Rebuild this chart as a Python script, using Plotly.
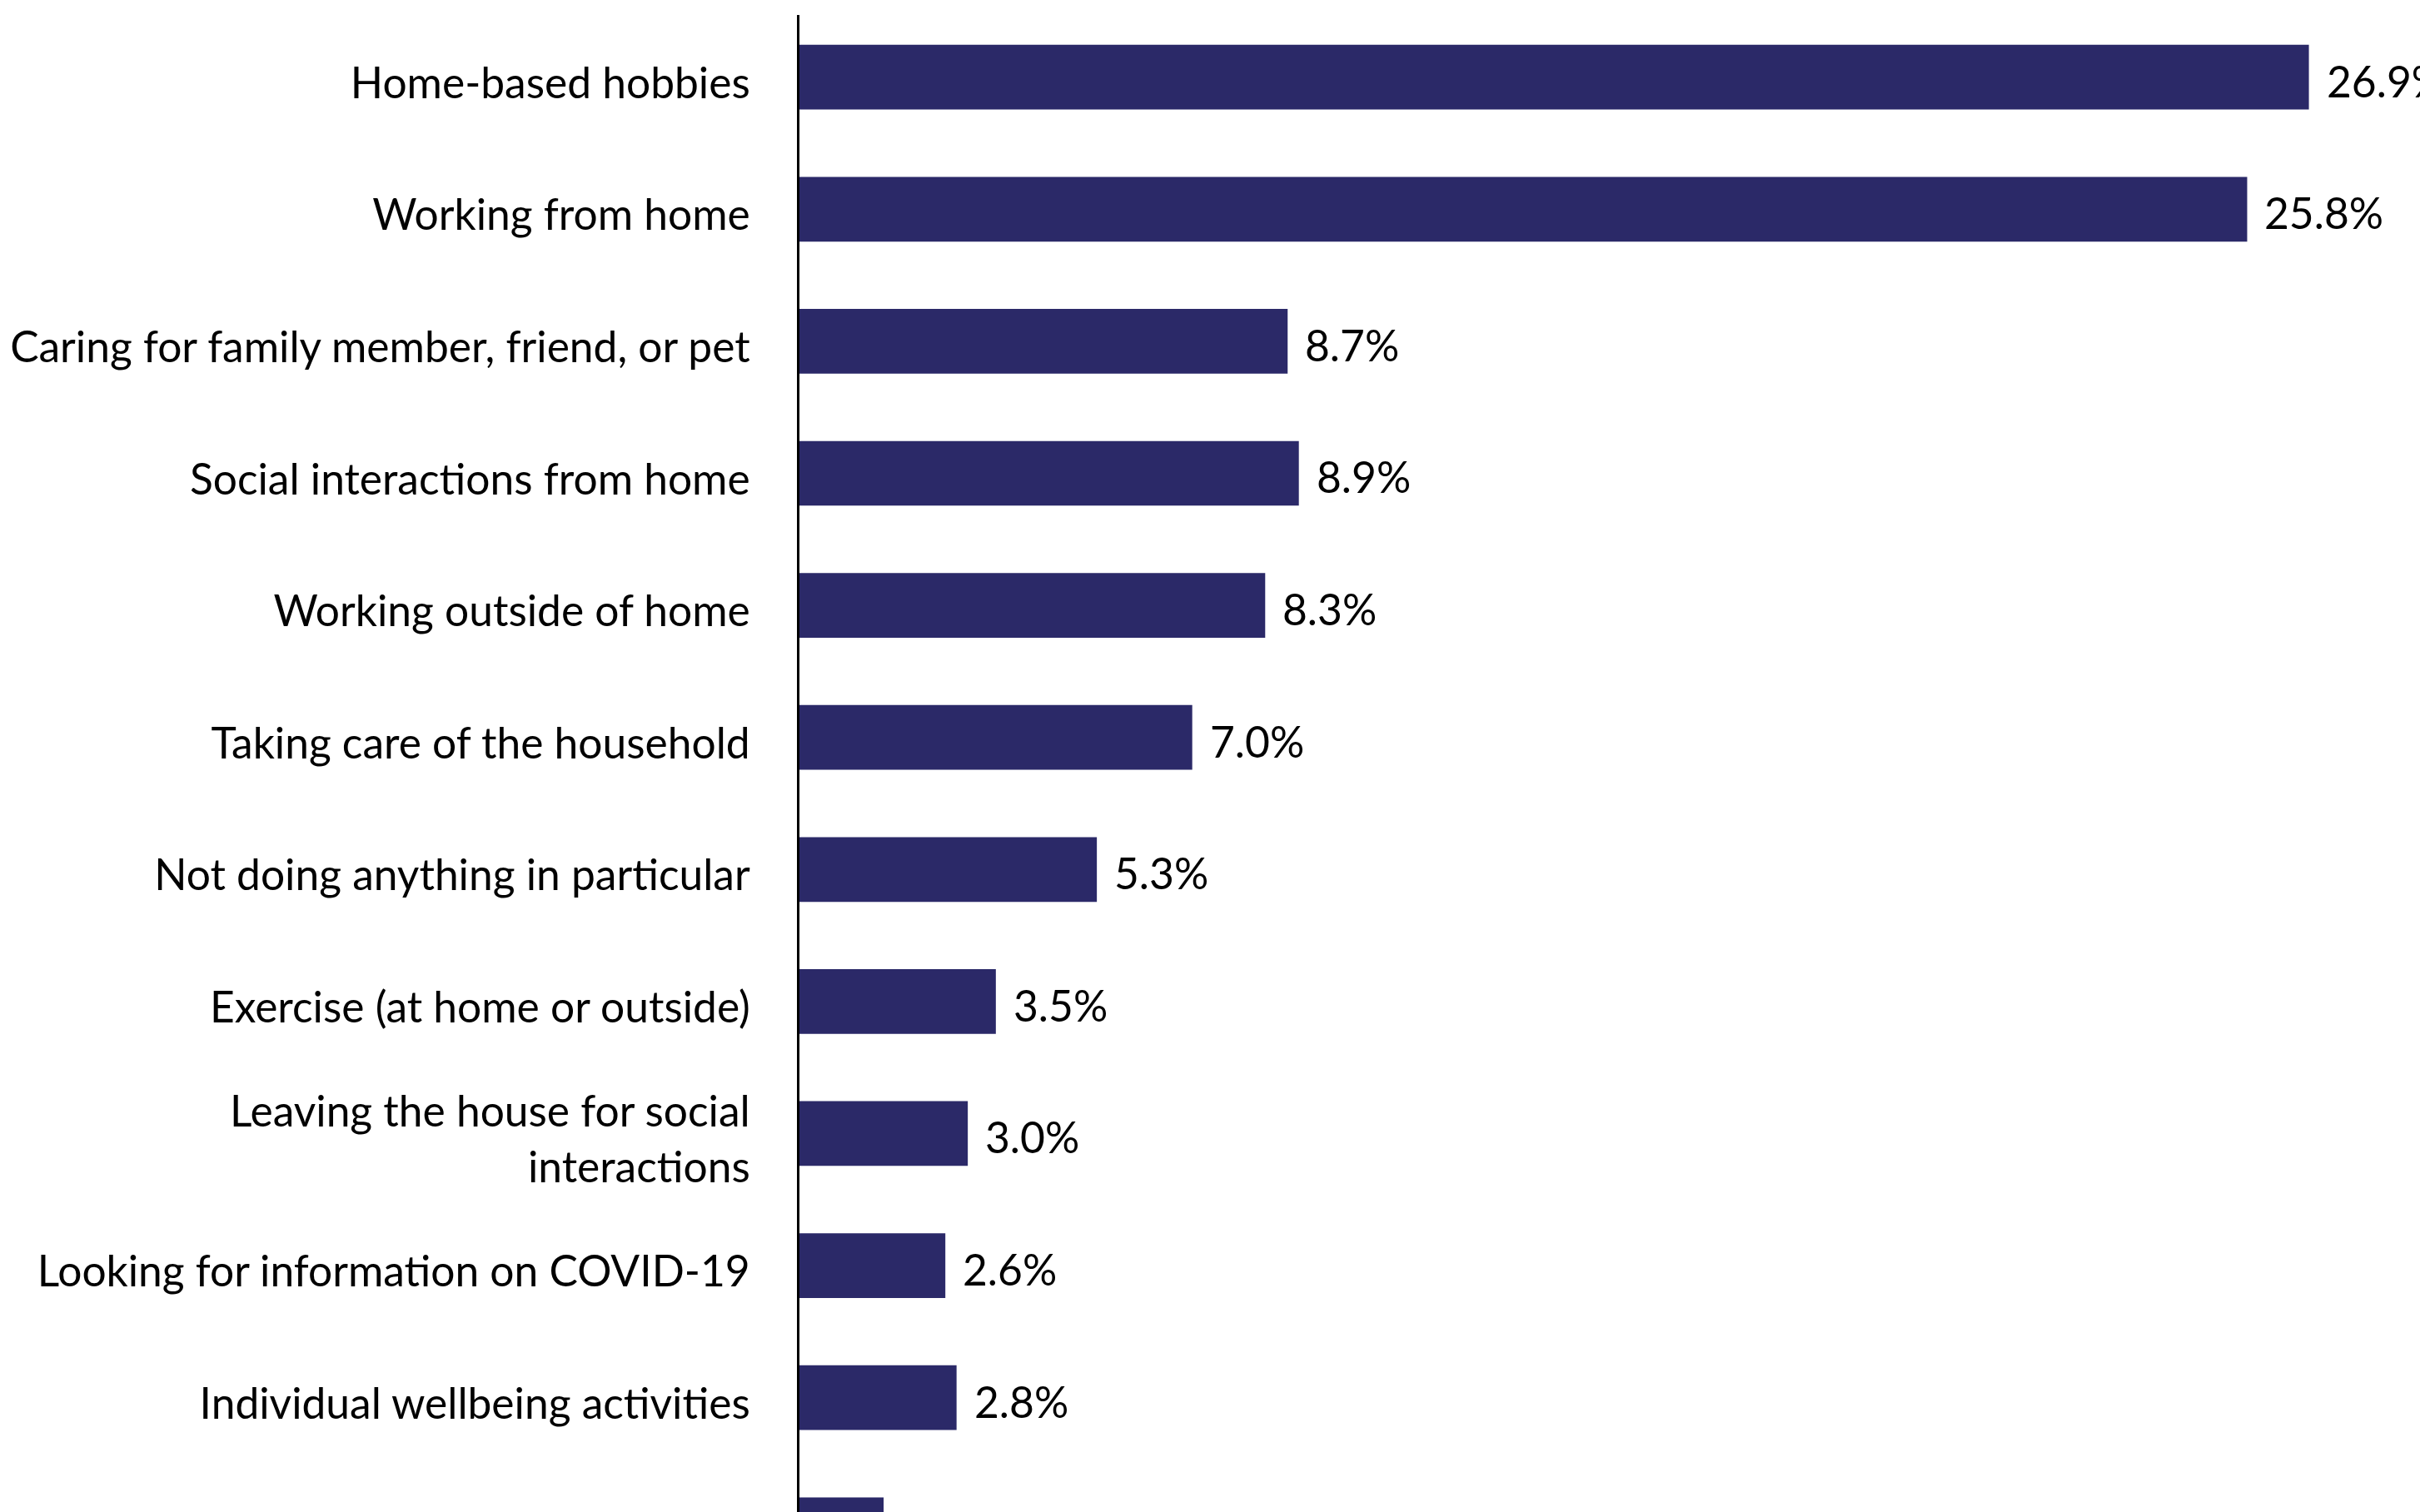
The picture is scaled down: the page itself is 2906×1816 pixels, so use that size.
import plotly.graph_objects as go

categories = [
    "Home-based hobbies",
    "Working from home",
    "Caring for family member, friend, or pet",
    "Social interactions from home",
    "Working outside of home",
    "Taking care of the household",
    "Not doing anything in particular",
    "Exercise (at home or outside)",
    "Leaving the house for social<br>interactions",
    "Looking for information on COVID-19",
    "Individual wellbeing activities",
    "Other",
]
values = [26.9, 25.8, 8.7, 8.9, 8.3, 7.0, 5.3, 3.5, 3.0, 2.6, 2.8, 1.5]
value_labels = [f"{v:.1f}%" for v in values]

BAR = "#2B2968"
FONT = "Lato, 'Open Sans', sans-serif"
FS = 51.5

fig = go.Figure()
fig.add_trace(go.Bar(
    x=values, y=categories, orientation="h",
    marker=dict(color=BAR, line=dict(width=0)),
    width=0.49,
    hoverinfo="skip",
))

for v, c, t in zip(values, categories, value_labels):
    fig.add_annotation(x=v, y=c, text=t, showarrow=False,
                       xanchor="left", yanchor="middle", xshift=19, yshift=-4,
                       font=dict(family=FONT, size=FS, color="#000000"))

fig.update_layout(
    width=2906, height=1816,
    margin=dict(l=960, r=0, t=18, b=0, pad=0, autoexpand=False),
    paper_bgcolor="white", plot_bgcolor="white",
    showlegend=False,
    font=dict(family=FONT, size=FS, color="#000000"),
    xaxis=dict(range=[0, 28.88], visible=False, showgrid=False, zeroline=False),
    yaxis=dict(
        type="category",
        range=[10.866, -0.471],
        automargin=False,
        showline=True, linecolor="#000000", linewidth=3,
        showgrid=False, zeroline=False,
        ticks="", ticklabelstandoff=46, ticklabelshift=-7,
        tickfont=dict(family=FONT, size=FS, color="#000000"),
    ),
)

fig.write_html(
    "out.html",
    config={"displayModeBar": False},
    post_script="document.body.style.margin='0';document.body.style.overflow='hidden';",
)
